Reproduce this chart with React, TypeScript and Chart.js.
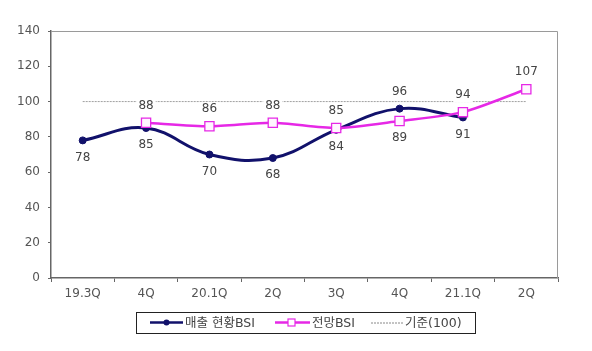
import React, { useEffect, useRef } from "react";
import { Chart, registerables } from "chart.js";

Chart.register(...registerables);

const categories = ["19.3Q", "4Q", "20.1Q", "2Q", "3Q", "4Q", "21.1Q", "2Q"];
const salesBSI = [78, 85, 70, 68, 84, 96, 91, null];
const outlookBSI = [null, 88, 86, 88, 85, 89, 94, 107];
const baseline = [100, 100, 100, 100, 100, 100, 100, 100];
const salesLabelPos = ["below", "below", "below", "below", "below", "above", "below", ""];
const outlookLabelPos = ["", "above", "above", "above", "above", "below", "above", "above"];
const yTicks = [0, 20, 40, 60, 80, 100, 120, 140];
const legendLabels = ["매출 현황BSI", "전망BSI", "기준(100)"];

const FONT = "'DejaVu Sans', 'Noto Sans CJK KR', sans-serif";
const NAVY = "#11116b";
const PINK = "#e628e6";

const labelPlugin = {
  id: "valueLabels",
  afterDatasetsDraw(chart: any) {
    const ctx = chart.ctx;
    ctx.save();
    ctx.font = `12px ${FONT}`;
    ctx.textAlign = "center";
    ctx.textBaseline = "middle";
    const specs = [
      { idx: 0, pos: salesLabelPos, data: salesBSI },
      { idx: 1, pos: outlookLabelPos, data: outlookBSI },
    ];
    for (const s of specs) {
      const meta = chart.getDatasetMeta(s.idx);
      meta.data.forEach((pt: any, i: number) => {
        const v = s.data[i];
        if (v === null || v === undefined) return;
        const dy = s.pos[i] === "above" ? -17 : 17;
        const txt = String(v);
        const w = ctx.measureText(txt).width;
        ctx.fillStyle = "#ffffff";
        ctx.fillRect(pt.x - w / 2 - 2, pt.y + dy - 7, w + 4, 14);
        ctx.fillStyle = "#444444";
        ctx.fillText(txt, pt.x, pt.y + dy);
      });
    }
    ctx.restore();
  },
};

const framePlugin = {
  id: "frame",
  beforeDatasetsDraw(chart: any) {
    const { ctx, chartArea: a } = chart;
    ctx.save();
    ctx.strokeStyle = "#9a9a9a";
    ctx.lineWidth = 1;
    ctx.beginPath();
    ctx.moveTo(a.left, a.top + 0.5);
    ctx.lineTo(a.right - 0.5, a.top + 0.5);
    ctx.lineTo(a.right - 0.5, a.bottom);
    ctx.stroke();
    ctx.restore();
  },
};

const legendPlugin = {
  id: "boxLegend",
  afterDraw(chart: any) {
    const ctx = chart.ctx;
    ctx.save();
    const x0 = 136, y0 = 312, x1 = 475, y1 = 333;
    const cy = (y0 + y1) / 2;
    ctx.strokeStyle = "#222";
    ctx.lineWidth = 1;
    ctx.strokeRect(x0 + 0.5, y0 + 0.5, x1 - x0, y1 - y0);
    ctx.font = `12.5px ${FONT}`;
    ctx.textBaseline = "middle";
    ctx.textAlign = "left";
    // item 1
    ctx.strokeStyle = NAVY;
    ctx.lineWidth = 2.5;
    ctx.beginPath();
    ctx.moveTo(150, cy);
    ctx.lineTo(183, cy);
    ctx.stroke();
    ctx.fillStyle = NAVY;
    ctx.beginPath();
    ctx.arc(166.5, cy, 3, 0, Math.PI * 2);
    ctx.fill();
    ctx.fillStyle = "#444";
    ctx.fillText(legendLabels[0], 185, cy + 1);
    // item 2
    ctx.strokeStyle = PINK;
    ctx.lineWidth = 2.5;
    ctx.beginPath();
    ctx.moveTo(275, cy);
    ctx.lineTo(310, cy);
    ctx.stroke();
    ctx.fillStyle = "#fff";
    ctx.fillRect(288, cy - 3.5, 7, 7);
    ctx.lineWidth = 1.2;
    ctx.strokeRect(288, cy - 3.5, 7, 7);
    ctx.fillStyle = "#444";
    ctx.fillText(legendLabels[1], 312, cy + 1);
    // item 3
    ctx.strokeStyle = "#888";
    ctx.lineWidth = 1;
    ctx.setLineDash([2, 1]);
    ctx.beginPath();
    ctx.moveTo(371, cy + 0.5);
    ctx.lineTo(403, cy + 0.5);
    ctx.stroke();
    ctx.setLineDash([]);
    ctx.fillText(legendLabels[2], 405, cy + 1);
    ctx.restore();
  },
};

export default function App() {
  const ref = useRef<HTMLCanvasElement>(null);
  useEffect(() => {
    if (!ref.current) return;
    const chart = new Chart(ref.current, {
      type: "line",
      data: {
        labels: categories,
        datasets: [
          {
            label: legendLabels[0],
            data: salesBSI,
            borderColor: NAVY,
            backgroundColor: NAVY,
            borderWidth: 3,
            pointRadius: 3.5,
            pointBorderWidth: 1,
            pointStyle: "circle",
            pointBackgroundColor: NAVY,
            pointBorderColor: NAVY,
            tension: 0.4,
            order: 1,
          },
          {
            label: legendLabels[1],
            data: outlookBSI,
            borderColor: PINK,
            backgroundColor: "#ffffff",
            borderWidth: 2.5,
            pointRadius: 6.5,
            pointStyle: "rect",
            pointBackgroundColor: "#fff6ff",
            pointBorderColor: PINK,
            pointBorderWidth: 1.3,
            tension: 0.25,
            order: 0,
          },
          {
            label: legendLabels[2],
            data: baseline,
            borderColor: "#a0a0a0",
            borderWidth: 1,
            borderDash: [2, 1],
            pointRadius: 0,
            tension: 0,
            order: 2,
          },
        ] as any,
      },
      options: {
        animation: false,
        responsive: false,
        spanGaps: false,
        layout: { padding: { left: 0, right: 34, top: 31, bottom: 0 } },
        plugins: {
          legend: { display: false },
          tooltip: { enabled: false },
        },
        scales: {
          x: {
            offset: true,
            grid: {
              offset: true,
              drawOnChartArea: false,
              drawTicks: true,
              tickLength: 4,
              color: "#666",
            },
            border: { color: "#666", width: 1.5 },
            ticks: {
              color: "#555",
              font: { family: FONT, size: 12 },
              padding: 5,
              maxRotation: 0,
            },
            afterFit: (s: any) => {
              s.height = 73;
            },
          },
          y: {
            min: 0,
            max: 140,
            afterBuildTicks: (s: any) => {
              s.ticks = yTicks.map((v) => ({ value: v }));
            },
            grid: {
              drawOnChartArea: false,
              drawTicks: true,
              tickLength: 3,
              color: "#666",
            },
            border: { color: "#666", width: 1.5 },
            ticks: {
              color: "#555",
              font: { family: FONT, size: 12 },
              padding: 8,
            },
            afterFit: (s: any) => {
              s.width = 51;
            },
          },
        },
      },
      plugins: [framePlugin, labelPlugin, legendPlugin],
    });
    return () => chart.destroy();
  }, []);
  return (
    <div style={{ position: "fixed", left: 0, top: 0, width: 592, height: 351, background: "#fff" }}>
      <canvas ref={ref} width={592} height={351} style={{ width: 592, height: 351, display: "block" }} />
    </div>
  );
}
